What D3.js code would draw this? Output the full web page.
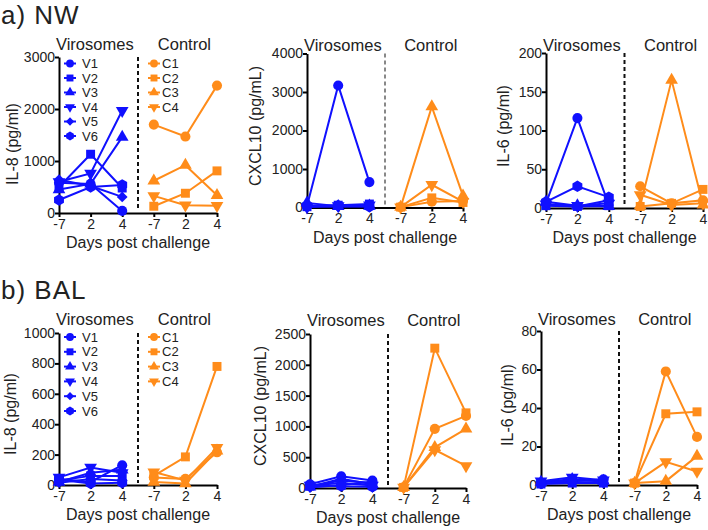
<!DOCTYPE html>
<html>
<head>
<meta charset="utf-8">
<script src="https://cdn.jsdelivr.net/npm/d3@7"></script>
<style>
  html, body { margin: 0; padding: 0; background: #fff; }
  svg { display: block; }
  text { font-family: Arial, "Liberation Sans", sans-serif; fill: #222; }
</style>
</head>
<body>
<svg id="chart" width="708" height="530"></svg>
<script>
// ---------------- DATA ----------------
const days = ["-7", "2", "4"];
const groupNames = ["Virosomes", "Control"];
const virosomeIds = ["V1", "V2", "V3", "V4", "V5", "V6"];
const controlIds = ["C1", "C2", "C3", "C4"];
const sectionTitles = ["a) NW", "b) BAL"];
const xAxisTitle = "Days post challenge";

// NW IL-8 (pg/ml)
const nwIL8Vir = [[580, 560, 40], [500, 1130, 480], [450, 560, 1460], [600, 760, 1970], [640, 520, 310], [250, 500, 540]];
const nwIL8Ctl = [[1700, 1470, 2450], [130, 380, 810], [620, 920, 340], [330, 150, 140]];
const nwIL8Ticks = [0, 1000, 2000, 3000];
// NW CXCL10 (pg/mL)
const nwCXCL10Vir = [[40, 3170, 660], [20, 60, 90], [120, 30, 40], [10, 40, 60], [30, 20, 30], [50, 50, 20]];
const nwCXCL10Ctl = [[10, 150, 170], [10, 250, 130], [10, 2620, 300], [10, 590, 150]];
const nwCXCL10Ticks = [0, 1000, 2000, 3000, 4000];
// NW IL-6 (pg/ml)
const nwIL6Vir = [[6, 116, 4], [3, 2, 3], [8, 3, 2], [5, 3, 6], [4, 2, 10], [8, 28, 14]];
const nwIL6Ctl = [[28, 6, 10], [2, 6, 24], [3, 165, 4], [17, 4, 6]];
const nwIL6Ticks = [0, 50, 100, 150, 200];
// BAL IL-8 (pg/ml)
const balIL8Vir = [[40, 20, 130], [30, 60, 60], [20, 80, 100], [50, 115, 80], [15, 40, 30], [35, 10, 15]];
const balIL8Ctl = [[50, 40, 215], [60, 185, 780], [20, 10, 225], [85, 30, 245]];
const balIL8Ticks = [0, 200, 400, 600, 800, 1000];
// BAL CXCL10 (pg/mL)
const balCXCL10Vir = [[60, 190, 120], [30, 120, 80], [20, 150, 60], [40, 80, 40], [10, 50, 100], [50, 30, 20]];
const balCXCL10Ctl = [[10, 960, 1170], [10, 2270, 1220], [10, 660, 960], [10, 620, 360]];
const balCXCL10Ticks = [0, 500, 1000, 1500, 2000, 2500];
// BAL IL-6 (pg/ml)
const balIL6Vir = [[1, 2, 3], [0.5, 1, 1], [1.5, 3, 2], [2, 4, 2.5], [1, 1.5, 1], [0.8, 2.5, 2]];
const balIL6Ctl = [[1, 59, 25], [1, 37, 38], [1, 2, 15], [1, 12, 7]];
const balIL6Ticks = [0, 20, 40, 60, 80];

const yTitles = ["IL-8 (pg/ml)", "CXCL10 (pg/mL)", "IL-6 (pg/ml)", "IL-8 (pg/ml)", "CXCL10 (pg/mL)", "IL-6 (pg/ml)"];

// ---------------- STYLE / LAYOUT ----------------
const BLUE = "#1010ff";
const ORANGE = "#ff8c1a";
const virShapes = ["circle", "square", "triangle", "triangleDown", "diamond", "hexagon"];
const ctlShapes = ["circle", "square", "triangle", "triangleDown"];

const panels = [
  { vir: nwIL8Vir, ctl: nwIL8Ctl, ticks: nwIL8Ticks, title: yTitles[0], x0: 59, x1: 217, yT: 57, yB: 213, labX: 12, labY: 144, dash: "#111", legend: true, legY: 63.5, legStep: 14.5, gy: 50 },
  { vir: nwCXCL10Vir, ctl: nwCXCL10Ctl, ticks: nwCXCL10Ticks, title: yTitles[1], x0: 307, x1: 463, yT: 53.5, yB: 207.5, labX: 255, labY: 126, dash: "#888", legend: false, gy: 51 },
  { vir: nwIL6Vir, ctl: nwIL6Ctl, ticks: nwIL6Ticks, title: yTitles[2], x0: 546, x1: 703, yT: 53, yB: 208, labX: 503, labY: 126, dash: "#111", legend: false, gy: 51 },
  { vir: balIL8Vir, ctl: balIL8Ctl, ticks: balIL8Ticks, title: yTitles[3], x0: 59, x1: 217, yT: 333, yB: 485, labX: 10, labY: 414, dash: "#111", legend: true, legY: 337, legStep: 14.8, gy: 325 },
  { vir: balCXCL10Vir, ctl: balCXCL10Ctl, ticks: balCXCL10Ticks, title: yTitles[4], x0: 310, x1: 466, yT: 334, yB: 488, labX: 260, labY: 406, dash: "#111", legend: false, gy: 326 },
  { vir: balIL6Vir, ctl: balIL6Ctl, ticks: balIL6Ticks, title: yTitles[5], x0: 541, x1: 697, yT: 331, yB: 485, labX: 507, labY: 405, dash: "#111", legend: false, gy: 325 }
];

const hexagon = {
  draw(ctx, size) {
    const r = Math.sqrt(size / (1.5 * Math.sqrt(3)));
    for (let i = 0; i < 6; i++) {
      const a = Math.PI / 6 + i * Math.PI / 3;
      const px = r * Math.cos(a), py = r * Math.sin(a);
      if (i === 0) ctx.moveTo(px, py); else ctx.lineTo(px, py);
    }
    ctx.closePath();
  }
};

function symbolPath(shape, scale) {
  const s = scale || 1;
  switch (shape) {
    case "circle": return { d: d3.symbol(d3.symbolCircle, 80 * s)(), rot: 0 };
    case "square": return { d: d3.symbol(d3.symbolSquare, 80 * s)(), rot: 0 };
    case "triangle": return { d: d3.symbol(d3.symbolTriangle, 70 * s)(), rot: 0 };
    case "triangleDown": return { d: d3.symbol(d3.symbolTriangle, 70 * s)(), rot: 180 };
    case "diamond": return { d: d3.symbol(d3.symbolSquare, 58 * s)(), rot: 45 };
    case "hexagon": return { d: d3.symbol(hexagon, 85 * s)(), rot: 0 };
  }
}

const svg = d3.select("#chart");

// Section titles
svg.append("text").attr("x", 1).attr("y", 24).style("font-size", "26px").style("letter-spacing", "1px").text(sectionTitles[0]);
svg.append("text").attr("x", 1).attr("y", 299).style("font-size", "26px").style("letter-spacing", "1px").text(sectionTitles[1]);

panels.forEach(p => {
  const g = svg.append("g");
  const x = d3.scaleLinear().domain([0, 5]).range([p.x0, p.x1]);
  const y = d3.scaleLinear().domain([0, d3.max(p.ticks)]).range([p.yB, p.yT]);

  // dashed separator
  g.append("line")
    .attr("x1", x(2.5)).attr("x2", x(2.5))
    .attr("y1", p.yT).attr("y2", p.yB - 2)
    .attr("stroke", p.dash).attr("stroke-width", 2).attr("stroke-dasharray", "4,3");

  // axes
  const xAxis = g.append("g").attr("transform", `translate(0,${p.yB})`)
    .call(d3.axisBottom(x).tickValues([0, 1, 2, 3, 4, 5]).tickFormat(i => days[i % 3]).tickSize(4).tickSizeOuter(0).tickPadding(2));
  const yAxis = g.append("g").attr("transform", `translate(${p.x0},0)`)
    .call(d3.axisLeft(y).tickValues(p.ticks).tickFormat(d3.format("d")).tickSize(4).tickSizeOuter(0).tickPadding(0));
  [xAxis, yAxis].forEach(a => {
    a.select(".domain").attr("stroke", "#000").attr("stroke-width", 2);
    a.selectAll(".tick line").attr("stroke", "#000").attr("stroke-width", 2);
    a.selectAll(".tick text").style("font-size", "14px").style("font-family", "Arial, 'Liberation Sans', sans-serif").attr("fill", "#222");
  });

  // axis titles
  g.append("text")
    .attr("transform", `translate(${p.labX},${p.labY}) rotate(-90)`)
    .attr("text-anchor", "middle").attr("dominant-baseline", "central")
    .style("font-size", "16px").text(p.title);
  g.append("text")
    .attr("x", x(2.5)).attr("y", p.yB + 35)
    .attr("text-anchor", "middle").style("font-size", "16px").text(xAxisTitle);

  // group labels
  g.append("text").attr("x", x(0) - 3).attr("y", p.gy)
    .style("font-size", "16.5px").text(groupNames[0]);
  g.append("text").attr("x", x(4) - 1).attr("y", p.gy)
    .attr("text-anchor", "middle").style("font-size", "16.5px").text(groupNames[1]);

  const line = d3.line().x(d => x(d.i)).y(d => y(d.v));

  function drawGroup(series, offset, color, shapes) {
    series.forEach(vals => {
      const pts = vals.map((v, k) => ({ i: k + offset, v }));
      g.append("path").attr("d", line(pts)).attr("fill", "none")
        .attr("stroke", color).attr("stroke-width", 2);
    });
    series.forEach((vals, si) => {
      const sym = symbolPath(shapes[si]);
      vals.forEach((v, k) => {
        g.append("path").attr("d", sym.d)
          .attr("transform", `translate(${x(k + offset)},${y(v)}) rotate(${sym.rot})`)
          .attr("fill", color);
      });
    });
  }
  drawGroup(p.vir, 0, BLUE, virShapes);
  drawGroup(p.ctl, 3, ORANGE, ctlShapes);

  // legends
  if (p.legend) {
    function legend(ids, shapes, color, mx, tx) {
      ids.forEach((id, i) => {
        const ly = p.legY + i * p.legStep;
        g.append("line").attr("x1", mx - 6).attr("x2", mx + 6).attr("y1", ly).attr("y2", ly)
          .attr("stroke", color).attr("stroke-width", 2);
        const sym = symbolPath(shapes[i], 0.6);
        g.append("path").attr("d", sym.d)
          .attr("transform", `translate(${mx},${ly}) rotate(${sym.rot})`).attr("fill", color);
        g.append("text").attr("x", tx).attr("y", ly).attr("dominant-baseline", "central")
          .style("font-size", "13px").text(id);
      });
    }
    legend(virosomeIds, virShapes, BLUE, 70, 82);
    legend(controlIds, ctlShapes, ORANGE, 154, 162);
  }
});
</script>
</body>
</html>
